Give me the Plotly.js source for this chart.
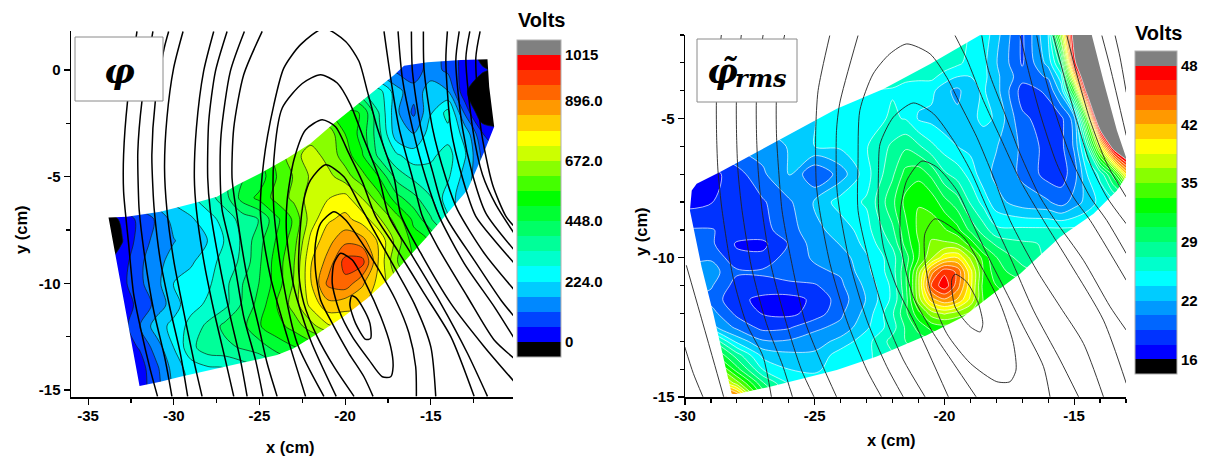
<!DOCTYPE html>
<html><head><meta charset="utf-8">
<script src="https://cdn.plot.ly/plotly-3.0.1.min.js"></script>
<style>html,body{margin:0;padding:0;background:#fff}#c{width:1213px;height:460px}</style>
</head><body><div id="c"></div>
<script>
// ---------- Left panel: floating potential phi (volts) ----------
const phiGridX = [-34,-33,-32,-31,-30,-29,-28,-27,-26,-25,-24,-23,-22,-21,-20,-19,-18,-17,-16,-15,-14,-13,-12,-11];
const phiGridY = [-15,-14,-13,-12,-11,-10,-9,-8,-7,-6,-5,-4,-3,-2,-1,0,1];
const phiVolts = [
[20,20,30,90,180,230,250,270,290,320,350,380,400,420,440,450,450,450,450,450,450,450,450,450],
[20,20,30,100,190,250,270,280,300,330,370,420,460,480,500,520,520,520,520,520,520,520,520,520],
[30,30,60,140,225,320,370,375,400,420,470,500,520,540,600,650,680,650,600,550,500,450,400,350],
[40,30,110,200,240,300,350,410,430,500,540,580,650,720,750,760,740,680,600,520,450,380,300,250],
[40,30,70,130,200,260,290,320,400,470,560,640,745,820,800,790,760,700,600,500,400,300,200,150],
[50,40,100,150,225,250,270,320,390,450,530,620,780,910,935,850,760,680,600,500,400,300,200,150],
[-10,30,100,150,190,215,260,300,350,440,530,610,780,860,975,975,770,620,560,500,400,300,200,150],
[-50,-3,84,130,165,196,225,285,345,430,510,590,745,820,880,860,770,650,530,500,400,300,200,150],
[-60,20,70,120,190,215,260,300,360,395,490,570,700,775,800,760,680,590,490,400,290,190,120,80],
[100,120,170,210,240,270,310,370,470,520,580,630,700,725,750,670,580,470,410,340,250,190,120,80],
[200,200,230,240,260,290,340,380,440,470,560,620,680,690,640,580,500,370,320,300,290,200,120,80],
[250,250,250,250,250,270,310,360,430,500,580,650,700,650,590,510,370,290,250,270,300,230,100,60],
[250,250,250,250,250,250,300,350,420,480,540,600,640,650,560,480,350,190,170,250,260,210,60,20],
[250,250,250,250,250,250,300,350,400,450,500,540,570,560,520,500,330,180,100,220,300,100,-60,-40],
[250,250,250,250,250,250,300,350,400,450,500,520,520,500,430,340,300,190,130,200,170,10,-60,-60],
[250,250,250,250,250,250,300,350,400,450,500,500,500,450,350,220,130,100,84,135,100,30,10,-20],
[250,250,250,250,250,250,300,350,400,450,500,500,500,450,350,200,120,100,84,135,100,30,-40,-40]
];
const phiBoundaryX = [-33.81,-32.74,-30.79,-28.84,-27.48,-26.31,-24.94,-23.38,-22.02,-20.65,-19.09,-18.12,-17.14,-16.56,-15.2,-13.25,-11.69,-11.59,-11.3,-11.88,-12.27,-12.86,-14.03,-15.2,-16.36,-17.53,-18.7,-20.07,-21.43,-22.99,-23.97,-25.72,-27.87,-29.62,-30.79,-32,-33.81];
const phiBoundaryY = [-6.91,-6.88,-6.64,-6.25,-5.94,-5.39,-4.84,-4.14,-3.44,-2.5,-1.48,-0.86,-0.23,0.2,0.36,0.47,0.5,-0.78,-2.66,-3.83,-4.53,-5.63,-6.72,-7.81,-8.83,-9.84,-10.7,-11.56,-12.27,-13.05,-13.36,-13.67,-14.06,-14.38,-14.61,-14.81,-6.91];
const phiFluxX = [
[-32.15,-32.7,-32.93,-32.93,-32.84,-32.64,-32.35,-31.96,-31.37,-30.95],
[-31.22,-31.86,-32.1,-32.06,-32.02,-31.67,-31.18,-30.5,-30.11],
[-30.3,-30.56,-31.08,-31.28,-31.22,-31.14,-30.79,-30.2,-29.62,-29.19],
[-29.46,-30.01,-30.4,-30.54,-30.4,-30.01,-29.52,-28.84,-28.35],
[-27.67,-28.26,-28.68,-28.8,-28.68,-28.26,-27.67,-26.99,-26.5],
[-26.89,-27.57,-27.96,-28.02,-27.87,-27.38,-26.7,-26.11,-25.72],
[-25.88,-26.7,-27.24,-27.28,-27.18,-26.5,-25.92,-25.23,-24.79],
[-24.84,-25.92,-26.5,-26.6,-26.36,-25.72,-25.04,-24.55,-23.97],
[-22.31,-23.38,-24.36,-24.94,-24.75,-24.16,-23.58,-22.6,-21.24,-19.97,-19.19,-18.7,-18.12,-17.14,-16.75,-15.58,-13.83,-11.88,-10.13],
[-21.24,-22.8,-23.67,-24.16,-24.16,-23.67,-22.5,-21.43,-20.46,-19.68,-19,-18.02,-17.44,-16.17,-14.42,-12.86,-11.69],
[-20.52,-22.02,-22.99,-23.42,-23.38,-22.99,-22.31,-21.34,-20.56,-19.78,-19,-18.22,-16.95,-15.39,-13.83,-12.47],
[-19.48,-20.65,-21.63,-22.41,-22.7,-22.64,-22.41,-22.02,-21.14,-20.07,-19.09,-18.12,-17.14,-15.97,-15,-14.71],
[-18.37,-18.9,-19.78,-20.75,-21.43,-21.73,-21.73,-21.43,-20.65,-19.97,-19,-18.02,-17.05,-16.27,-15.88,-15.84],
[-20.26,-20.65,-20.75,-20.36,-19.58,-18.61,-17.83,-17.34,-17.2,-17.34,-17.92,-18.8,-19.58,-20.26],
[-19.62,-19.72,-19.39,-18.8,-18.51,-18.55,-19,-19.39,-19.62],
[-17.73,-17.34,-16.85,-16.07,-15.49,-14.61,-12.86,-11.3,-10.13],
[-16.91,-16.66,-16.07,-15.29,-14.51,-13.05,-11.3,-10.13],
[-16.13,-16.07,-15.58,-14.9,-14.12,-12.47,-10.91,-10.13],
[-15.43,-15.39,-14.9,-14.12,-13.44,-11.88,-10.13],
[-14.03,-14.12,-13.83,-13.15,-12.37,-11.3,-10.13],
[-13.34,-13.54,-13.15,-12.56,-11.78,-10.13],
[-12.72,-12.95,-12.56,-11.98,-11.2,-10.13],
[-12.12,-12.37,-12.08,-11.39,-10.61,-10.13]
];
const phiFluxY = [
[1.81,-1.47,-3.97,-5.69,-6.56,-8.13,-10.47,-12.03,-14.06,-15.3],
[1.81,-1.47,-3.84,-5.88,-6.56,-8.9,-11.25,-13.59,-15.3],
[1.81,1.03,-1.47,-3.97,-5.53,-6.56,-8.9,-11.25,-13.28,-15.3],
[1.81,0.09,-2.25,-4.59,-6.56,-8.9,-10.94,-13.59,-15.3],
[1.81,-0.06,-2.72,-5.06,-6.56,-8.9,-11.25,-13.59,-15.3],
[1.81,-0.06,-2.41,-5.06,-6.56,-8.9,-11.56,-13.59,-15.3],
[1.81,-0.06,-3.03,-5.38,-6.56,-8.9,-11.56,-13.59,-15.3],
[1.81,-0.22,-2.72,-5.06,-6.56,-9.69,-12.03,-13.75,-15.3],
[-15.3,-12.5,-9.69,-6.78,-4.28,-1.63,0.09,1.19,1.95,1.34,0.41,-1.0,-2.72,-5.06,-6.78,-8.59,-10.94,-12.97,-14.61],
[-15.3,-12.81,-9.69,-6.56,-4.22,-1.78,-0.63,-0.22,-0.61,-1.63,-3.03,-5.06,-6.86,-8.59,-10.94,-13.28,-15.3],
[-15.3,-12.66,-10.16,-7.66,-6.09,-4.22,-2.81,-2.33,-2.66,-3.91,-5.22,-6.86,-8.44,-10.47,-12.5,-15.3],
[-15.3,-13.91,-12.5,-10.94,-9.53,-7.66,-6.09,-5.16,-4.44,-5,-6.41,-7.81,-9.22,-10.94,-12.97,-15.3],
[-15.3,-14.38,-13.28,-11.88,-10.78,-9.38,-8.13,-7.19,-6.64,-7.03,-8.13,-9.38,-10.78,-12.34,-13.91,-15.3],
[-8.59,-9.06,-10,-11.25,-12.5,-13.59,-14.38,-14.38,-13.91,-12.97,-11.56,-10,-8.91,-8.59],
[-10.59,-11.02,-11.88,-12.63,-12.58,-11.88,-11.09,-10.66,-10.59],
[1.81,-0.38,-2.72,-5.06,-6.86,-8.28,-10.63,-12.66,-13.52],
[1.81,-0.38,-2.72,-5.06,-6.86,-9.06,-11.09,-12.58],
[1.81,-0.06,-2.72,-4.75,-6.86,-8.91,-10.78,-11.56],
[1.81,0,-2.72,-5.06,-6.56,-8.59,-10.31],
[1.81,0.41,-2.72,-5.06,-6.86,-7.97,-9.06],
[1.81,0.41,-2.72,-4.91,-6.72,-8.44],
[1.81,0.56,-2.72,-4.91,-6.31,-7.66],
[1.81,0.56,-2.72,-5.38,-6.86,-7.34]
];
const phiBandColors = ['#000000','#0000ff','#0044ff','#0088ff','#00ccff','#00ffff','#00ffcc','#00ff99','#00ff66','#00ff33','#00ff00','#44ff00','#88ff00','#ccff00','#ffff00','#ffcc00','#ff9900','#ff6600','#ff3300','#ff0000','#808080'];
const phiCbTickVals = [0,224,448,672,896,1064];
const phiCbTickText = ['0','224.0','448.0','672.0','896.0','1015'];

// ---------- Right panel: rms fluctuation (volts) ----------
const rmsGridX = [-30,-29,-28,-27,-26,-25,-24,-23,-22,-21.5,-21,-20.5,-20,-19.5,-19,-18.5,-18,-17,-16,-15.5,-15,-14.5,-14,-13.5,-13];
const rmsGridY = [-15,-14.5,-14,-13.5,-13,-12.5,-12,-11.5,-11,-10.5,-10,-9.5,-9,-8,-7,-6,-5,-4,-3.5,-3,-2];
const rmsVolts = [
[50,50,44,32,27,25,25,25,26,26,26,26,26,26,26,26,26,26,26,26,26,26,26,26,26],
[46,42,36,29,25.5,24.5,25,25.5,26.5,27,27,28,28,28,28,28,28,28,28,28,28,28,28,28,28],
[42,38,31,25.5,24,23.8,24.5,25.2,27,27.5,28,28,28,28,28,28,28,28,28,28,28,28,28,28,28],
[38,33,28,23.5,22.8,22.8,24.8,25.2,27,27.7,28.5,29,30,30,30,30,30,30,30,30,30,30,30,30,30],
[32,29,23.5,21,21,21.5,23,25,27.8,28.8,29.5,30.2,31,31,31,31,31,31,31,31,31,31,31,31,31],
[24,23,20.4,18.7,19,20.5,21.2,23.7,26.5,29,31,32.5,33,33,33,33,33,33,33,33,33,33,33,33,33],
[22,21.5,18.8,17.5,17.2,18.2,20.5,23,27,30,33,36,37,36,35,34,33,33,33,33,33,33,33,33,33],
[21,20.2,18,17.2,17,17.9,20,22.5,26,29.5,36,41,43,41.5,38,33.5,32.5,32,32,32,32,32,32,32,32],
[21,21,18.5,18.5,18.8,19,20.5,22.8,26,30,36.5,45,47.5,44,39,33,32,31,30,30,30,30,30,30,30],
[21,21.5,19.5,19.5,20,20.5,21,23.5,26.5,30,36,42.5,46,44.5,39,33.5,31,29.5,28,28,28,28,28,28,28],
[20.5,20.6,18,18,20,21,21.5,23.8,26.5,29.5,33.5,36.5,39.5,40,36.5,33,30.5,28,27,27,27,27,27,27,27],
[20.5,19.5,17.4,17.2,19.3,21.5,22.5,24.5,27.5,31,33.5,35.5,35.5,35.2,33,30,28.5,27.5,27,27,27,27,27,27,27],
[19.3,19.3,18.6,18.7,20,22,23,25,28.5,31.5,34,34.5,33.8,32.5,30,28,26,26,26,26,26,26,26,26,26],
[17,17.5,18.6,19,20.5,22.6,24.8,25.8,30,32.5,33.5,33,31,29.5,27,25,23,21.5,21,20,21.5,23,24.5,25,26],
[16.5,17,18.5,20.5,22.6,19.2,21.5,25,28.5,31,31.5,30,27.5,26.5,25,23,22,20.5,18.5,18.5,20,24,26,31,40],
[19,20,21,21.5,22.5,24,24.3,25.5,27.5,28.5,27.5,26,24.8,24,23.5,23,22.5,20.5,18.5,18.8,21,27,38,50,55],
[20,21,22,23,23.5,24,24.8,25,25.8,25.5,23.8,23.5,23,22.8,23.5,24.4,23.8,19.5,18.5,18.8,21.5,35,55,55,55],
[22,22,22,23,24,24.5,25,25.5,25.5,25,24.6,24.5,22.8,22,23.5,24.2,23,18.5,19.5,23,33,50,55,55,55],
[22,22,22,23,24,24.5,25.5,26,26,26,26,26,25,24,24,24.5,22.8,19.8,21,25,40,55,55,55,55],
[22,22,22,23,24,25,26,26,26.5,26.5,26.5,26.5,26.5,26,25,24.5,22.5,19,23,28,47,55,55,55,55],
[22,22,22,23,24,25,26,26,26,26,26,26,26,26,25.5,25,23,18.9,24,36,50,55,55,55,55]
];
const rmsBoundaryX = [-28.2,-28.91,-29.36,-29.81,-29.74,-29.55,-28.65,-27.24,-25.69,-24.15,-22.35,-20.55,-18.62,-14.32,-13.87,-13.35,-13,-13,-13.35,-14.25,-15.54,-17.08,-18.11,-19.27,-20.68,-21.84,-22.61,-24.15,-25.44,-26.72,-28.01,-28.2];
const rmsBoundaryY = [-14.89,-12,-10.33,-8.3,-7.58,-7.34,-6.92,-6.21,-5.43,-4.65,-3.94,-3.04,-2,-2,-3.64,-5.43,-6.39,-7.1,-7.58,-8.42,-9.25,-10.57,-11.28,-12.12,-12.78,-13.26,-13.55,-14.03,-14.33,-14.63,-14.89,-14.89];
const rmsFluxX = [
[-30.01,-29.68,-29.31],
[-29.95,-29.42,-28.91,-28.51],
[-28.6,-28.7,-28.79,-28.78,-28.73,-28.57,-28.15,-27.63,-26.99,-26.67],
[-27.83,-27.93,-28.02,-28.01,-27.96,-27.8,-27.44,-26.86,-26.22,-25.86],
[-26.99,-27.13,-27.25,-27.24,-27.18,-27.03,-26.67,-26.09,-25.51,-25.03],
[-26.16,-26.36,-26.48,-26.47,-26.39,-26.26,-25.96,-25.39,-24.68,-24.16],
[-24.42,-24.87,-24.96,-24.94,-24.81,-24.41,-23.77,-22.99,-22.43],
[-23.33,-24.04,-24.16,-24.15,-24.04,-23.64,-22.99,-22.22,-21.59],
[-20.75,-21.58,-22.24,-22.88,-23.33,-23.33,-23.26,-22.75,-22.11,-21.45,-20.55,-19.91,-19.4,-18.75,-18.11,-17.47,-16.44,-15.54,-14.64,-13.87],
[-19.85,-21.07,-21.84,-22.35,-22.54,-22.54,-22.48,-21.97,-21.2,-20.42,-19.65,-19,-18.37,-17.47,-16.57,-15.54,-14.83],
[-18.78,-19.65,-20.42,-21.2,-21.58,-21.71,-21.68,-21.45,-20.87,-20.3,-19.52,-19,-18.37,-17.72,-16.95,-16.18,-15.93],
[-20.36,-20.75,-20.75,-20.49,-19.91,-19,-17.98,-17.47,-17.24,-17.34,-17.85,-18.5,-19.27,-20.36],
[-19.59,-19.72,-19.59,-19,-18.62,-18.52,-18.69,-19.14,-19.59],
[-19.59,-19.14,-18.5,-17.85,-17.08,-16.18,-15.15,-13.87,-12.99],
[-18.56,-18.3,-17.72,-17.08,-16.31,-15.73,-14.64,-13.61,-12.99],
[-17.08,-16.76,-16.31,-15.67,-15.03,-14.38,-12.99],
[-16.44,-16.18,-15.67,-15.03,-14.38,-13.74,-12.99],
[-15.8,-15.41,-14.9,-14.38,-13.74,-12.99],
[-15.28,-14.9,-14.38,-13.74,-12.99],
[-13.93,-13.61,-12.99],
[-13.42,-13.23,-12.99]
];
const rmsFluxY = [
[-13.2,-14.15,-14.99],
[-10.27,-12,-13.67,-14.99],
[-2,-2.92,-4.41,-5.67,-6.86,-8.3,-10.69,-12.36,-13.55,-14.99],
[-2,-2.92,-4.41,-5.67,-6.86,-8.3,-10.33,-12.36,-13.91,-14.99],
[-2,-2.92,-4.41,-5.67,-6.86,-8.3,-10.33,-12.36,-14.03,-14.99],
[-2,-2.92,-4.41,-5.67,-6.86,-8.3,-9.85,-12.24,-13.91,-14.99],
[-2.02,-4,-5.43,-7.34,-8.3,-10.21,-12.24,-14.03,-14.99],
[-2.02,-4.47,-5.43,-7.46,-8.3,-10.21,-12.24,-13.91,-14.99],
[-14.99,-13.67,-12.24,-10.21,-8.3,-6.62,-4.71,-3.4,-2.68,-2.32,-2.68,-3.52,-4.47,-5.67,-7.1,-8.66,-10.45,-11.76,-13.08,-14.99],
[-14.99,-12.48,-11.05,-9.61,-8.18,-6.86,-5.91,-4.95,-4.44,-4.83,-5.79,-6.86,-8.18,-9.97,-11.88,-13.67,-14.99],
[-14.99,-13.79,-12.72,-11.4,-10.09,-9.13,-8.18,-7.22,-6.53,-6.74,-7.58,-8.6,-9.85,-11.05,-12.48,-13.91,-14.99],
[-8.6,-9.13,-10.09,-11.4,-12.72,-13.79,-14.45,-14.45,-14.03,-13.08,-11.64,-10.45,-9.25,-8.6],
[-10.59,-10.81,-11.76,-12.48,-12.66,-12.36,-11.64,-10.87,-10.59],
[-2.02,-2.86,-4.35,-5.67,-7.22,-8.66,-10.21,-12.24,-14.51],
[-2.02,-3.28,-4.71,-6.27,-7.82,-8.66,-10.09,-11.76,-12.6],
[-2.02,-3.28,-4.83,-6.62,-7.82,-8.66,-10.81],
[-2.02,-3.28,-4.95,-6.62,-7.82,-8.66,-9.85],
[-2.02,-3.4,-5.07,-6.62,-7.82,-8.78],
[-2.02,-3.4,-5.07,-6.62,-7.82],
[-2.02,-3.16,-5.61],
[-2.02,-2.8,-4.06]
];
const rmsBandColors = ['#000000','#0000ff','#0033ff','#0066ff','#0099ff','#00ccff','#00ffff','#00ffcc','#00ff99','#00ff66','#00ff33','#00ff00','#44ff00','#88ff00','#ccff00','#ffff00','#ffcc00','#ff9900','#ff6600','#ff3300','#ff0000','#808080'];
const rmsCbTickVals = [16,22.4,28.8,35.2,41.6,48];
const rmsCbTickText = ['16','22','29','35','42','48'];

// ---------- page geometry ----------
const W = 1213, H = 460;
const px = v => v / W, py = v => 1 - v / H;
const boldFont = 'Liberation Sans, Arial, sans-serif';

function stepped(cols){
  const out = [];
  cols.forEach((c,i)=>{ out.push([i/cols.length,c]); out.push([(i+1)/cols.length,c]); });
  return out;
}
function maskPath(bx,by,xr,yr){
  const rx=[xr[0],xr[1],xr[1],xr[0],xr[0]], ry=[yr[0],yr[0],yr[1],yr[1],yr[0]];
  return {x:rx.concat(bx,[bx[0],xr[0]]), y:ry.concat(by,[by[0],yr[0]])};
}
function panel(o){
  const tr=[];
  tr.push({type:'contour',x:o.gx,y:o.gy,z:o.z,xaxis:o.xa,yaxis:o.ya,autocontour:false,
    zauto:false,zmin:o.start-o.size,zmax:o.end+o.size,
    contours:{start:o.start,end:o.end,size:o.size,coloring:'fill',showlines:false},
    line:{width:0,smoothing:0.9},colorscale:stepped(o.cols),hoverinfo:'skip',
    colorbar:{x:px(o.cb[0]),xanchor:'left',y:py(o.cb[2]),yanchor:'top',lenmode:'fraction',len:(o.cb[3]-o.cb[2])/H,
      thickness:o.cb[1]-o.cb[0],thicknessmode:'pixels',xpad:0,ypad:0,outlinecolor:'#b0b0b0',outlinewidth:1,borderwidth:0,
      tickmode:'array',tickvals:o.tv,ticktext:o.tt,ticks:'',tickfont:{family:boldFont,size:15,color:'#000',weight:'bold'}}});
  tr.push({type:'contour',x:o.gx,y:o.gy,z:o.z,xaxis:o.xa,yaxis:o.ya,autocontour:false,showscale:false,
    contours:{start:o.start,end:o.end,size:o.size,coloring:'none'},
    line:{width:o.isoW,color:o.isoC,smoothing:0.9},hoverinfo:'skip'});
  const m=maskPath(o.bx,o.by,o.mx,o.my);
  tr.push({type:'scatter',mode:'lines',x:m.x,y:m.y,xaxis:o.xa,yaxis:o.ya,fill:'toself',fillcolor:'#fff',line:{width:0},hoverinfo:'skip',showlegend:false});
  o.fx.forEach((fx,i)=>tr.push({type:'scatter',mode:'lines',x:fx,y:o.fy[i],xaxis:o.xa,yaxis:o.ya,
    line:{color:o.fc,width:o.fw,shape:'spline',smoothing:0.7},hoverinfo:'skip',showlegend:false}));
  return tr;
}
const data = panel({gx:phiGridX,gy:phiGridY,z:phiVolts,xa:'x',ya:'y',start:0,end:1064,size:56,cols:phiBandColors,
    cb:[517,561,40,357],tv:phiCbTickVals,tt:phiCbTickText,isoW:0.7,isoC:'#102010',
    bx:phiBoundaryX,by:phiBoundaryY,mx:[-37,-9],my:[-16,3],fx:phiFluxX,fy:phiFluxY,fc:'#000',fw:1.5})
  .concat(panel({gx:rmsGridX,gy:rmsGridY,z:rmsVolts,xa:'x2',ya:'y2',start:16,end:48,size:1.6,cols:rmsBandColors,
    cb:[1135,1177,51,374],tv:rmsCbTickVals,tt:rmsCbTickText,isoW:0.8,isoC:'rgba(255,255,255,0.85)',
    bx:rmsBoundaryX,by:rmsBoundaryY,mx:[-31,-12],my:[-16,-1],fx:rmsFluxX,fy:rmsFluxY,fc:'#222',fw:0.9}));

function axis(o){
  return Object.assign({showgrid:false,zeroline:false,showline:true,linecolor:'#000',linewidth:1.5,mirror:false,
    ticks:'outside',ticklen:6,tickwidth:1.2,tickcolor:'#000',
    tickfont:{family:boldFont,size:15,color:'#000',weight:'bold'},tickmode:'array'},o);
}
function note(x,y,text,size,family,angle){
  return {xref:'paper',yref:'paper',x:px(x),y:py(y),xanchor:'center',yanchor:'middle',showarrow:false,
    text:text,textangle:angle||0,font:{family:family||boldFont,size:size,color:'#000'}};
}
function box(x0,x1,y0,y1){
  return {type:'rect',xref:'paper',yref:'paper',x0:px(x0),x1:px(x1),y0:py(y0),y1:py(y1),layer:'above',
    fillcolor:'#fff',line:{color:'#8a8a8a',width:1}};
}
const serif = 'DejaVu Serif, serif';
const layout = {
  width:W,height:H,margin:{l:0,r:0,t:0,b:0},paper_bgcolor:'#fff',plot_bgcolor:'#fff',showlegend:false,
  xaxis:axis({domain:[px(71),px(513)],range:[-36,-10.2],anchor:'y',tickvals:[-35,-30,-25,-20,-15],ticktext:['-35','-30','-25','-20','-15'],ticklabelstandoff:-2,
    minor:{tickmode:'linear',tick0:0,dtick:2.5,ticks:'outside',ticklen:4,tickcolor:'#000'}}),
  yaxis:axis({domain:[1-397/H,1-31/H],range:[-15.33,1.83],anchor:'x',tickvals:[0,-5,-10,-15],ticktext:['0','-5','-10','-15'],
    minor:{tickmode:'linear',tick0:0,dtick:2.5,ticks:'outside',ticklen:4,tickcolor:'#000'}}),
  xaxis2:axis({domain:[px(685),px(1126)],range:[-30,-13],anchor:'y2',tickvals:[-30,-25,-20,-15],ticktext:['-30','-25','-20','-15'],ticklabelstandoff:-2,
    minor:{tickmode:'linear',tick0:0,dtick:1,ticks:'outside',ticklen:4,tickcolor:'#000'}}),
  yaxis2:axis({domain:[1-397/H,1-35/H],range:[-15,-2],anchor:'x2',tickvals:[-5,-10,-15],ticktext:['-5','-10','-15'],
    minor:{tickmode:'linear',tick0:0,dtick:1,ticks:'outside',ticklen:4,tickcolor:'#000'}}),
  shapes:[box(75,163,37,101),box(697,797,39,102)],
  annotations:[
    note(119,71,'<b><i>φ</i></b>',34,serif),
    note(722,71,'<b><i>φ̃</i></b>',34,serif),
    note(761,78,'<b><i>rms</i></b>',24,serif),
    note(541,20,'<b>Volts</b>',20),
    note(1158,33,'<b>Volts</b>',20),
    note(290,447,'<b>x (cm)</b>',16.5),
    note(21,230,'<b>y (cm)</b>',16.5,boldFont,-90),
    note(892,440,'<b>x (cm)</b>',16.5),
    note(641,232,'<b>y (cm)</b>',16.5,boldFont,-90)
  ]
};
Plotly.newPlot('c',data,layout,{displayModeBar:false,responsive:false,staticPlot:true});
</script></body></html>
